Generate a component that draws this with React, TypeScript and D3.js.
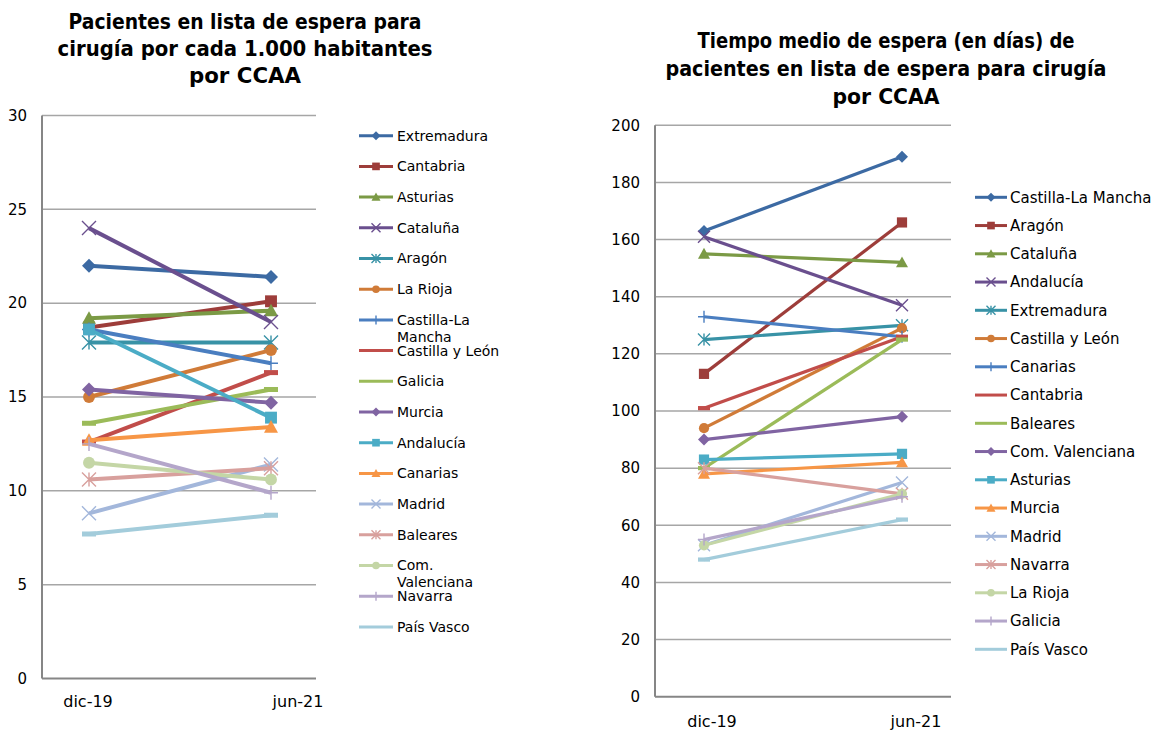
import React from "react";
import * as d3 from "d3";

const categories = ["dic-19", "jun-21"];

// Left chart: Pacientes por cada 1.000 habitantes
const leftNames = [
  "Extremadura", "Cantabria", "Asturias", "Cataluña", "Aragón", "La Rioja",
  "Castilla-La Mancha", "Castilla y León", "Galicia", "Murcia", "Andalucía",
  "Canarias", "Madrid", "Baleares", "Com. Valenciana", "Navarra", "País Vasco",
];
const leftDic = [22.0, 18.7, 19.2, 24.0, 17.9, 15.0, 18.6, 12.6, 13.6, 15.4, 18.6, 12.7, 8.8, 10.6, 11.5, 12.5, 7.7];
const leftJun = [21.4, 20.1, 19.6, 19.0, 17.9, 17.5, 16.8, 16.3, 15.4, 14.7, 13.9, 13.4, 11.4, 11.2, 10.6, 9.9, 8.7];
const leftTicks = [0, 5, 10, 15, 20, 25, 30];
const leftLegendLabels = [
  ["Extremadura"], ["Cantabria"], ["Asturias"], ["Cataluña"], ["Aragón"], ["La Rioja"],
  ["Castilla-La", "Mancha"], ["Castilla y León"], ["Galicia"], ["Murcia"], ["Andalucía"],
  ["Canarias"], ["Madrid"], ["Baleares"], ["Com.", "Valenciana"], ["Navarra"], ["País Vasco"],
];
const leftTitle = ["Pacientes en lista de espera para", "cirugía por cada 1.000 habitantes", "por CCAA"];

// Right chart: Tiempo medio de espera (días)
const rightNames = [
  "Castilla-La Mancha", "Aragón", "Cataluña", "Andalucía", "Extremadura", "Castilla y León",
  "Canarias", "Cantabria", "Baleares", "Com. Valenciana", "Asturias", "Murcia", "Madrid",
  "Navarra", "La Rioja", "Galicia", "País Vasco",
];
const rightDic = [163, 113, 155, 161, 125, 94, 133, 101, 80, 90, 83, 78, 53, 80, 53, 55, 48];
const rightJun = [189, 166, 152, 137, 130, 129, 126, 126, 125, 98, 85, 82, 75, 71, 71, 70, 62];
const rightTicks = [0, 20, 40, 60, 80, 100, 120, 140, 160, 180, 200];
const rightTitle = ["Tiempo medio de espera (en días) de", "pacientes en lista de espera para cirugía", "por CCAA"];

const seriesColors = [
  "#3C6AA3", "#9D3D3A", "#7B9A45", "#6A4F8E", "#3892A6", "#D07B38",
  "#4A7EC0", "#C14D4A", "#9BBB59", "#8064A2", "#4BACC6", "#F79646",
  "#A3B7DB", "#D8A09D", "#C4D6A6", "#B4A6CA", "#A3CCDB",
];
const markerTypes = [
  "diamond", "square", "triangle", "x", "asterisk", "circle", "plus", "dash",
  "dash", "diamond", "square", "triangle", "x", "asterisk", "circle", "plus", "dash",
];

const FONT = "'DejaVu Sans', sans-serif";

function Marker({ type, x, y, size, color, lw }: any) {
  const h = size / 2;
  const t = `translate(${x},${y})`;
  switch (type) {
    case "diamond":
      return <path transform={t} d={`M0,${-h}L${h},0L0,${h}L${-h},0Z`} fill={color} />;
    case "square":
      return <rect transform={t} x={-h * 0.85} y={-h * 0.85} width={size * 0.85} height={size * 0.85} fill={color} />;
    case "triangle":
      return <path transform={t} d={`M0,${-h}L${h},${h * 0.8}L${-h},${h * 0.8}Z`} fill={color} />;
    case "circle":
      return <circle transform={t} r={h * 0.85} fill={color} />;
    case "x":
      return <path transform={t} d={`M${-h},${-h}L${h},${h}M${-h},${h}L${h},${-h}`} stroke={color} strokeWidth={1.4} fill="none" />;
    case "asterisk":
      return <path transform={t} d={`M${-h},${-h}L${h},${h}M${-h},${h}L${h},${-h}M0,${-h}L0,${h}`} stroke={color} strokeWidth={1.4} fill="none" />;
    case "plus":
      return <path transform={t} d={`M${-h},0L${h},0M0,${-h}L0,${h}`} stroke={color} strokeWidth={1.4} fill="none" />;
    case "dash":
      return <rect transform={t} x={-h} y={-lw / 2} width={size} height={lw} fill={color} />;
    default:
      return null;
  }
}

function Chart(props: any) {
  const {
    dic, jun, names, legend, ticks, yMax, yRange, xPoints, xLabelPoints, gridX,
    lineW, markerSize, title, titleX, titleY, titleLens, titleSize,
    legX, legTextX, legY0, legStep, legFont, legSampleW, tickFont, catFont, catY,
  } = props;
  const y = d3.scaleLinear().domain([0, yMax]).range(yRange);
  const x = d3.scalePoint<string>().domain(categories).range(xPoints);
  const xl = d3.scalePoint<string>().domain(categories).range(xLabelPoints);
  const line = d3.line<[string, number]>().x((d) => x(d[0]) as number).y((d) => y(d[1]));
  return (
    <g>
      {title.map((s: string, i: number) => (
        <text key={i} x={titleX} y={titleY[i]} textAnchor="middle" fontFamily={FONT} fontWeight="bold"
          fontSize={titleSize} fill="#000" textLength={titleLens[i]} lengthAdjust="spacingAndGlyphs">{s}</text>
      ))}
      {ticks.map((t: number) => (
        <g key={t}>
          {t > 0 && <line x1={gridX[0]} x2={gridX[1]} y1={y(t)} y2={y(t)} stroke="#A6A6A6" strokeWidth={1.5} />}
          <text x={gridX[0] - 15} y={y(t)} dy="0.35em" textAnchor="end" fontFamily={FONT} fontSize={tickFont} fill="#000">{t}</text>
        </g>
      ))}
      <line x1={gridX[0]} x2={gridX[1]} y1={y(0)} y2={y(0)} stroke="#868686" strokeWidth={2} />
      <line x1={gridX[0]} x2={gridX[0]} y1={y(yMax)} y2={y(0)} stroke="#868686" strokeWidth={2} />
      {categories.map((c) => (
        <text key={c} x={xl(c)} y={catY} textAnchor="middle" fontFamily={FONT} fontSize={catFont} fill="#000">{c}</text>
      ))}
      {names.map((n: string, i: number) => {
        const pts: [string, number][] = [[categories[0], dic[i]], [categories[1], jun[i]]];
        return (
          <g key={n}>
            <path d={line(pts) as string} stroke={seriesColors[i]} strokeWidth={lineW} fill="none" />
            {pts.map((p, j) => (
              <Marker key={j} type={markerTypes[i]} x={x(p[0])} y={y(p[1])} size={markerSize} color={seriesColors[i]} lw={lineW + 1} />
            ))}
          </g>
        );
      })}
      {legend.map((lab: string[], i: number) => {
        const ly = legY0 + i * legStep;
        return (
          <g key={i}>
            <line x1={legX} x2={legX + legSampleW} y1={ly} y2={ly} stroke={seriesColors[i]} strokeWidth={3} />
            {markerTypes[i] !== "dash" && (
              <Marker type={markerTypes[i]} x={legX + legSampleW / 2} y={ly} size={9} color={seriesColors[i]} lw={3} />
            )}
            {lab.map((s, k) => (
              <text key={k} x={legTextX} y={ly + k * 17} dy="0.35em" fontFamily={FONT} fontSize={legFont} fill="#000">{s}</text>
            ))}
          </g>
        );
      })}
    </g>
  );
}

export default function App() {
  return (
    <svg width={1163} height={731} style={{ position: "absolute", left: 0, top: 0, background: "#fff" }}>
      <rect width={1163} height={731} fill="#fff" />
      <Chart
        dic={leftDic} jun={leftJun} names={leftNames} legend={leftLegendLabels} ticks={leftTicks}
        yMax={30} yRange={[678.5, 115.5]} xPoints={[89, 271]} xLabelPoints={[88, 298]} gridX={[42, 316]}
        lineW={4} markerSize={14} title={leftTitle} titleX={245} titleY={[29, 56, 83]}
        titleLens={[353, 375, 112]} titleSize={21}
        legX={359} legTextX={397} legY0={135.7} legStep={30.7} legFont={14} legSampleW={34}
        tickFont={15} catFont={16} catY={707}
      />
      <Chart
        dic={rightDic} jun={rightJun} names={rightNames} legend={rightNames.map((n) => [n])} ticks={rightTicks}
        yMax={200} yRange={[696.7, 125.3]} xPoints={[704, 902]} xLabelPoints={[712, 916]} gridX={[655, 951]}
        lineW={3.2} markerSize={12} title={rightTitle} titleX={886} titleY={[48, 76, 104]}
        titleLens={[377, 441, 107]} titleSize={21}
        legX={975} legTextX={1010} legY0={197.3} legStep={28.25} legFont={15} legSampleW={32}
        tickFont={15} catFont={16} catY={727}
      />
    </svg>
  );
}
